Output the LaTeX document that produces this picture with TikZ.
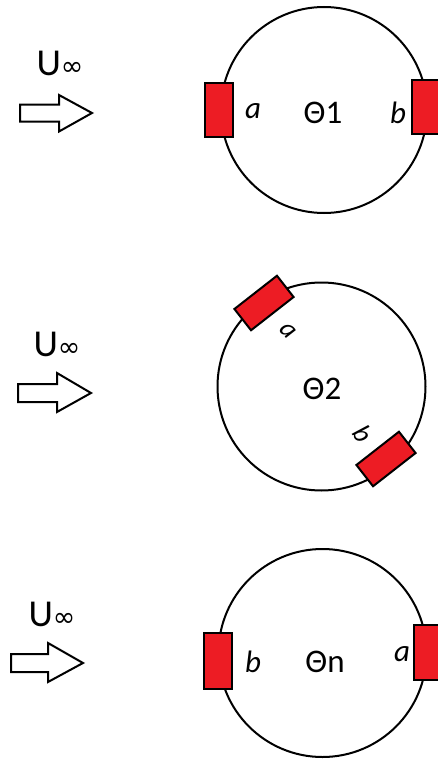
\documentclass[tikz,border=0pt]{standalone}
\usepackage{fontspec}
\setmainfont{Carlito}
\newfontfamily\symfont{DejaVu Sans}
\definecolor{padred}{HTML}{ED1C24}
\begin{document}
\begin{tikzpicture}[x=1pt,y=-1pt,
  ring/.style={circle,draw,line width=2pt,inner sep=0pt},
  pad/.style={draw,fill=padred,line width=2pt,inner sep=0pt,minimum width=28pt,minimum height=54pt},
  tpad/.style={draw,fill=padred,line width=2pt,inner sep=0pt,minimum width=54pt,minimum height=27pt},
  thlabel/.style={font=\fontsize{33}{33}\selectfont,inner sep=0pt},
  letter/.style={font=\fontsize{31}{31}\selectfont\itshape,inner sep=0pt},
  flow/.style={font=\fontsize{38}{38}\selectfont,inner sep=0pt},
  bigarrow/.style={draw,line width=2pt,fill=white,line join=miter}]
\useasboundingbox (0,0) rectangle (437,760);
% ---------- row 1 ----------
\node[ring,minimum size=206pt] (c1) at (324,110) {};
\node[pad] (p1a) at (219,110) {};
\node[pad] (p1b) at (426,107) {};
\node[letter] (l1a) at (253,111) {a};
\node[letter] (l1b) at (398,113) {b};
\node[thlabel] (t1) at (323,113) {Θ1};
\node[flow] (u1) at (60,63) {U{\symfont\fontsize{27}{27}\selectfont ∞}};
\coordinate (a1) at (20,113);
\draw[bigarrow] (a1) ++(0,-8.5) -- ++(39,0) -- ++(0,-9.5) -- ++(33,18) -- ++(-33,18.5) -- ++(0,-10) -- ++(-39,0) -- cycle;
% ---------- row 2 ----------
\node[ring,minimum size=208pt] (c2) at (321.5,386.5) {};
\node[tpad,rotate=38] (p2a) at (264,303) {};
\node[tpad,rotate=38] (p2b) at (386,459) {};
\node[letter,rotate=-45,font=\fontsize{27}{27}\selectfont\itshape] (l2a) at (288,331) {a};
\node[letter,rotate=-55,font=\fontsize{27}{27}\selectfont\itshape] (l2b) at (363,434) {b};
\node[thlabel] (t2) at (322,389) {Θ2};
\node[flow] (u2) at (57,344) {U{\symfont\fontsize{27}{27}\selectfont ∞}};
\coordinate (a2) at (18,393);
\draw[bigarrow] (a2) ++(0,-9) -- ++(39,0) -- ++(0,-11) -- ++(34,20) -- ++(-34,19) -- ++(0,-10) -- ++(-39,0) -- cycle;
% ---------- row 3 ----------
\node[ring,minimum size=208pt] (c3) at (322.5,653) {};
\node[pad,minimum height=56pt] (p3b) at (217.5,661) {};
\node[pad,minimum height=55pt] (p3a) at (428,652.5) {};
\node[letter] (l3b) at (253,662) {b};
\node[letter] (l3a) at (402,654) {a};
\node[thlabel] (t3) at (325,662) {Θn};
\node[flow] (u3) at (52,614) {U{\symfont\fontsize{27}{27}\selectfont ∞}};
\coordinate (a3) at (11,663);
\draw[bigarrow] (a3) ++(0,-9) -- ++(37,0) -- ++(0,-11) -- ++(35,20) -- ++(-35,19) -- ++(0,-10) -- ++(-37,0) -- cycle;
\end{tikzpicture}
\end{document}
